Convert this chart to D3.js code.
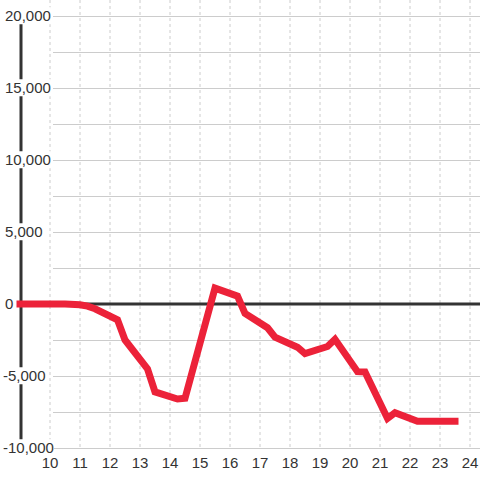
<!DOCTYPE html>
<html>
<head>
<meta charset="utf-8">
<script src="https://cdn.jsdelivr.net/npm/d3@7"></script>
<style>
  body { margin: 0; background: #fff; }
  text { font-family: "Liberation Sans", Arial, sans-serif; font-size: 15px; fill: #333; }
</style>
</head>
<body>
<svg width="480" height="480"></svg>
<script>
 // Data
 var hours = [9, 10.5, 11, 11.25, 11.5, 12.25, 12.5, 13.25, 13.5, 14.25, 14.5, 15.5, 16.25, 16.5,
              17.25, 17.5, 18.25, 18.5, 19.25, 19.5, 20.25, 20.5, 21.25, 21.5, 22.25, 22.5, 23.5];
 var values = [0, 0, -50, -150, -330, -1100, -2500, -4500, -6100, -6600, -6550, 1100, 550, -650,
               -1650, -2300, -3000, -3450, -2950, -2450, -4700, -4720, -7950, -7550, -8150, -8150, -8150];
 var xTicks = [10, 11, 12, 13, 14, 15, 16, 17, 18, 19, 20, 21, 22, 23, 24];
 var yTicks = [20000, 15000, 10000, 5000, 0, -5000, -10000];
 var yGrid = [20000, 17500, 15000, 12500, 10000, 7500, 5000, 2500, -2500, -5000, -7500, -10000];

 var svg = d3.select('svg');

 var x = d3.scaleLinear().domain([10, 24]).range([50, 470]);
 var y = d3.scaleLinear().domain([-10000, 20000]).range([448, 16]);

 // vertical dotted grid
 svg.append('g').selectAll('line').data(xTicks).join('line')
   .attr('x1', function(d) { return x(d); }).attr('x2', function(d) { return x(d); })
   .attr('y1', 0).attr('y2', y(-10000))
   .attr('stroke', '#ccc').attr('stroke-dasharray', '3,3');

 // horizontal grid
 svg.append('g').selectAll('line').data(yGrid).join('line')
   .attr('x1', 53).attr('x2', 480)
   .attr('y1', function(d) { return y(d) + 0.5; }).attr('y2', function(d) { return y(d) + 0.5; })
   .attr('stroke', '#ccc');

 // y axis line and zero line
 svg.append('line').attr('x1', 21).attr('x2', 21).attr('y1', y(20000)).attr('y2', y(-10000))
   .attr('stroke', '#333').attr('stroke-width', 3);
 svg.append('line').attr('x1', 20).attr('x2', 480).attr('y1', y(0)).attr('y2', y(0))
   .attr('stroke', '#333').attr('stroke-width', 3);

 // y labels (left aligned) with background
 var fmt = d3.format(',');
 var yl = svg.append('g').selectAll('g').data(yTicks).join('g')
   .attr('transform', function(d) { return 'translate(' + (d < 0 ? 3 : 5) + ',' + y(d) + ')'; });
 var ylText = yl.append('text')
   .attr('dy', '0.35em')
   .text(function(d) { return fmt(d).replace('−', '-'); });
 ylText.each(function() {
   var b = this.getBBox();
   d3.select(this.parentNode).insert('rect', 'text')
     .attr('x', b.x).attr('y', b.y).attr('width', b.width).attr('height', b.height)
     .attr('fill', '#fff');
 });

 // x labels
 svg.append('g').selectAll('text').data(xTicks).join('text')
   .attr('x', function(d) { return x(d); }).attr('y', 468)
   .attr('text-anchor', 'middle')
   .text(function(d) { return d; });

 // line
 var line = d3.line()
   .x(function(d, i) { return x(hours[i]); })
   .y(function(d) { return y(d); });
 svg.append('path').datum(values)
   .attr('d', line)
   .attr('fill', 'none').attr('stroke', '#ec2239').attr('stroke-width', 7)
   .attr('stroke-linecap', 'square');
</script>
</body>
</html>
